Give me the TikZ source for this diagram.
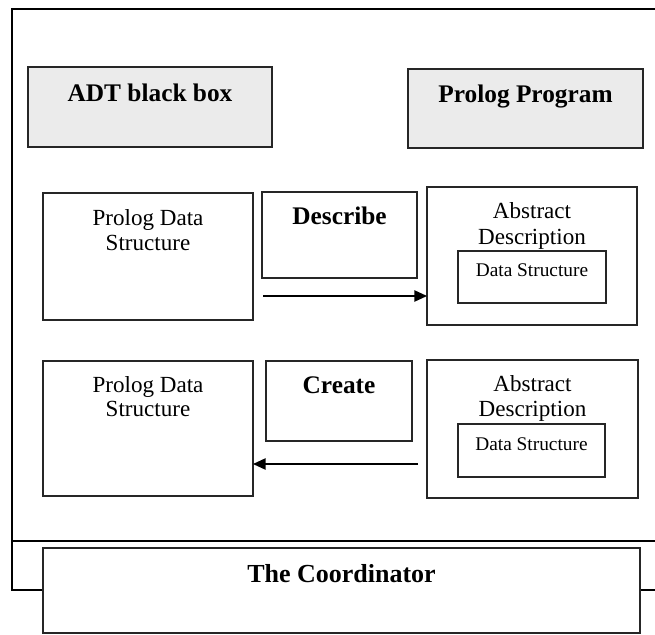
\documentclass[tikz,border=0pt]{standalone}
\usepackage{fontspec}
\setmainfont{Liberation Serif}
\usetikzlibrary{arrows.meta,calc}

\tikzset{
  x=0.75pt, y=-0.75pt,
  box/.style={draw=black!85, line width=1.1pt, inner sep=0pt, outer sep=0pt,
              anchor=north west, fill=white},
  greybox/.style={box, fill=black!8},
  bigbold/.style={font=\fontsize{19}{22}\selectfont\bfseries, inner sep=0pt, anchor=base},
  plain/.style={font=\fontsize{17.3}{20}\selectfont, inner sep=0pt, anchor=base},
  small/.style={font=\fontsize{14.5}{17}\selectfont, inner sep=0pt, anchor=base},
  frame/.style={line width=2.2pt, draw=black},
  flow/.style={line width=1.1pt, -{Triangle[length=9.5pt,width=8.5pt]}},
}

\newcommand{\boxat}[6]{% style, name, x0, y0, x1, y1
  \node[#1, minimum width={(#5-#3)*0.75pt}, minimum height={(#6-#4)*0.75pt}] (#2) at (#3,#4) {};}

\begin{document}
\begin{tikzpicture}
  \useasboundingbox (0,0) rectangle (655,634);

  % outer frame, open to the right
  \draw[frame] (665,9) -- (12,9) -- (12,590) -- (44,590);
  \draw[frame] (639,590) -- (665,590);
  \draw[line width=1.1pt] (12,541) -- (665,541);

  % top row
  \boxat{greybox}{adt}{28}{67}{272}{147}
  \node[bigbold] (adtt) at (150,101.7) {ADT black box};
  \boxat{greybox}{prog}{408}{69}{643}{148}
  \node[bigbold] (progt) at (525.5,103) {Prolog Program};

  % describe row
  \boxat{box}{pds1}{43}{193}{253}{320}
  \node[plain] (pds1a) at (148,225) {Prolog Data};
  \node[plain] (pds1b) at (148,250) {Structure};
  \boxat{box}{desc}{262}{192}{417}{278}
  \node[bigbold] (desct) at (339.5,224) {Describe};
  \boxat{box}{abs1}{427}{187}{637}{325}
  \node[plain] (abs1a) at (532,218.3) {Abstract};
  \node[plain] (abs1b) at (532,244) {Description};
  \boxat{box}{ds1}{458}{251}{606}{303}
  \node[small] (ds1t) at (532,276.7) {Data Structure};
  \coordinate (a1s) at (263,296);
  \draw[flow] (a1s) -- (a1s -| abs1.west);

  % create row
  \boxat{box}{pds2}{43}{361}{253}{496}
  \node[plain] (pds2a) at (148,392) {Prolog Data};
  \node[plain] (pds2b) at (148,416.5) {Structure};
  \boxat{box}{create}{266}{361}{412}{441}
  \node[bigbold] (createt) at (339,393) {Create};
  \boxat{box}{abs2}{427}{360}{638}{498}
  \node[plain] (abs2a) at (532.5,391.7) {Abstract};
  \node[plain] (abs2b) at (532.5,416.7) {Description};
  \boxat{box}{ds2}{458}{424}{605}{477}
  \node[small] (ds2t) at (531.5,450) {Data Structure};
  \coordinate (a2s) at (418,464);
  \draw[flow] (a2s) -- (a2s -| pds2.east);

  % coordinator
  \boxat{box}{coord}{43}{548}{640}{633}
  \node[font=\fontsize{19.5}{23}\selectfont\bfseries, inner sep=0pt, anchor=base] (coordt) at (341.5,582.7) {The Coordinator};
\end{tikzpicture}
\end{document}
